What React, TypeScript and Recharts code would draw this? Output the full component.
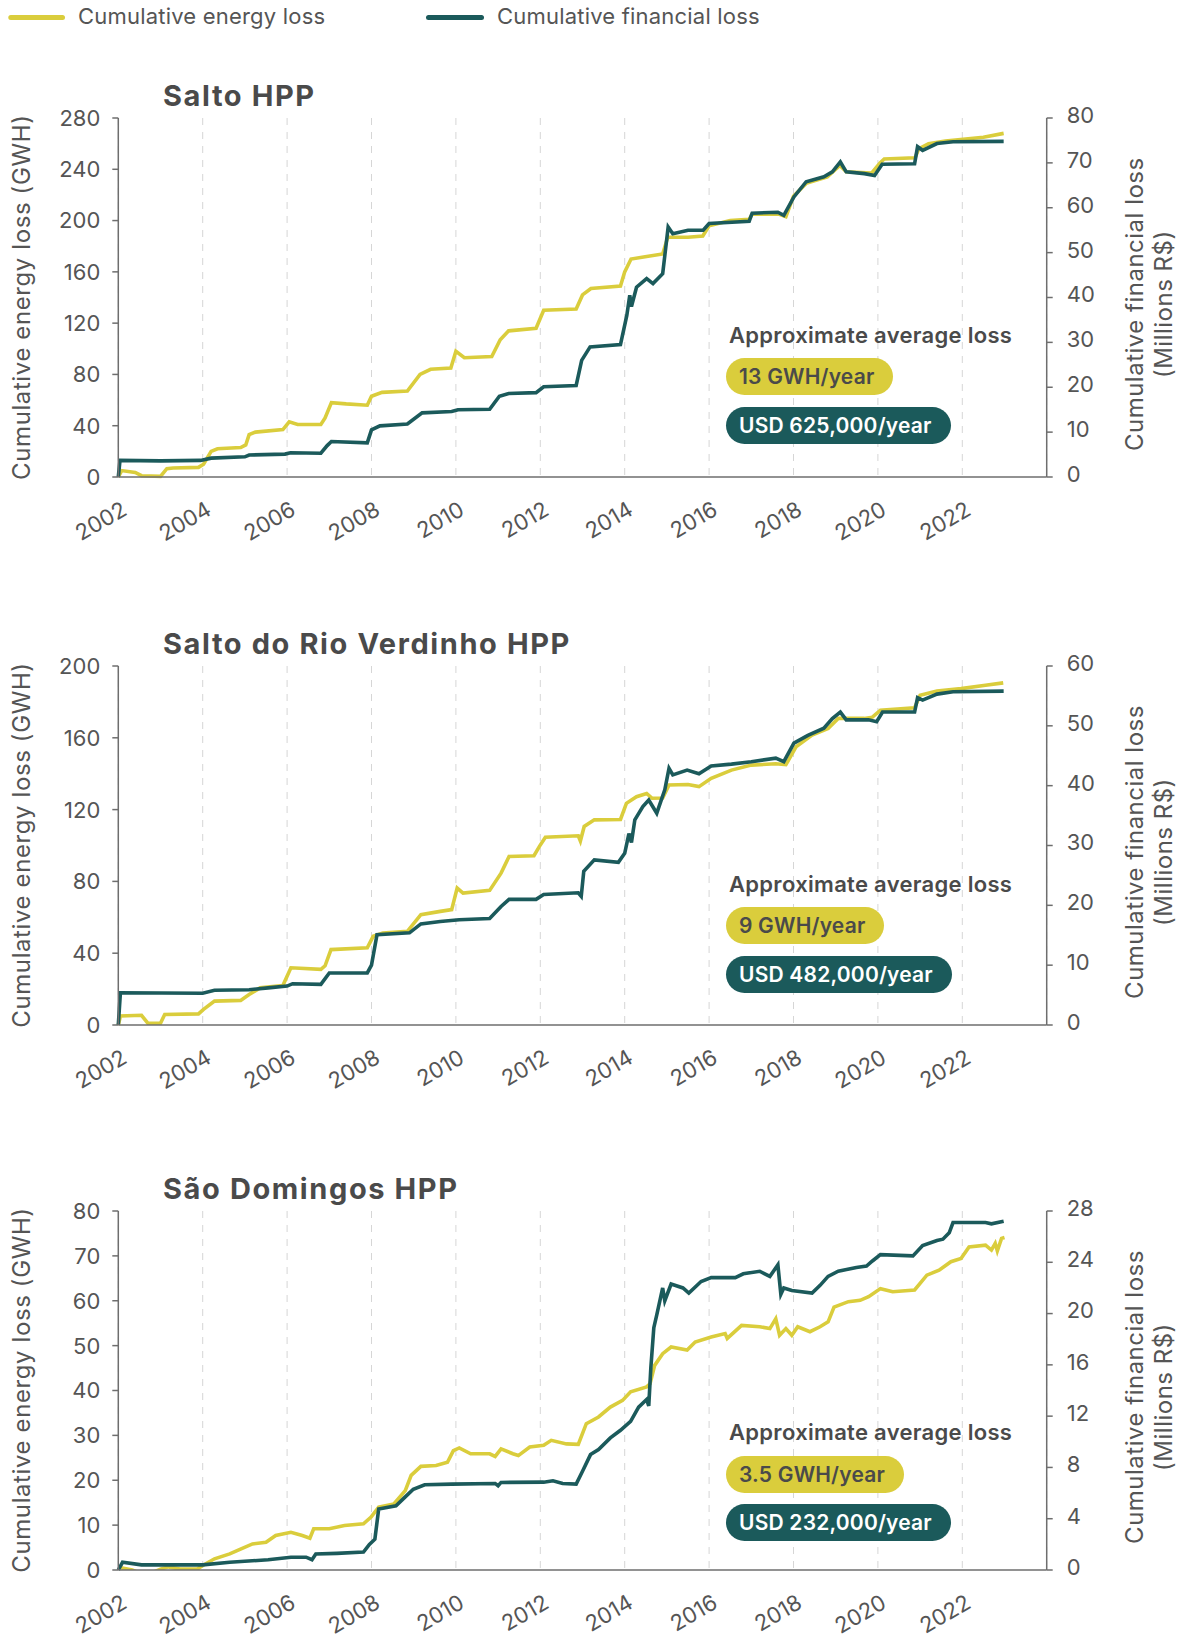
import React from 'react';
import { LineChart, Line, XAxis, YAxis, CartesianGrid } from 'recharts';

type Pt = [number, number];

// ---- data (decimal year, value) ----
const yearTicks = [2002, 2004, 2006, 2008, 2010, 2012, 2014, 2016, 2018, 2020, 2022];

const saltoEnergy: Pt[] = [
  [2002.0, 0], [2002.08, 5], [2002.4, 3.5], [2002.55, 1], [2003.0, 0.5], [2003.15, 6.5],
  [2003.3, 7], [2003.9, 7.5], [2004.02, 10], [2004.2, 20], [2004.35, 22], [2004.9, 23],
  [2005.02, 25], [2005.1, 33], [2005.25, 35], [2005.9, 37], [2006.05, 43], [2006.25, 41],
  [2006.8, 41], [2006.9, 46], [2007.05, 58], [2007.4, 57], [2007.9, 56], [2008.0, 63],
  [2008.25, 66], [2008.85, 67], [2009.15, 80], [2009.4, 84], [2009.88, 85], [2010.0, 98],
  [2010.2, 93], [2010.85, 94], [2011.05, 107], [2011.25, 114], [2011.9, 116], [2012.08, 130],
  [2012.85, 131], [2013.0, 142], [2013.2, 147], [2013.9, 149], [2014.0, 160], [2014.15, 170],
  [2014.9, 174], [2015.02, 187], [2015.5, 187], [2015.85, 188], [2016.0, 196], [2016.5, 200],
  [2016.95, 201], [2017.02, 205], [2017.65, 205], [2017.82, 203], [2018.0, 219], [2018.3, 229],
  [2018.8, 234], [2019.1, 243], [2019.25, 238], [2019.85, 237], [2020.05, 245], [2020.15, 248],
  [2020.88, 249], [2020.97, 256], [2021.2, 260], [2021.6, 262], [2022.5, 265], [2022.98, 268],
];
const saltoMoney: Pt[] = [
  [2002.0, 0], [2002.04, 3.7], [2003.0, 3.6], [2003.95, 3.7], [2004.2, 4.2], [2005.0, 4.5],
  [2005.1, 4.9], [2005.95, 5.1], [2006.08, 5.4], [2006.8, 5.3], [2006.95, 7.0], [2007.05, 7.9],
  [2007.9, 7.6], [2008.0, 10.5], [2008.2, 11.4], [2008.85, 11.8], [2009.2, 14.3], [2009.9, 14.6],
  [2010.05, 15.0], [2010.8, 15.1], [2011.03, 18.0], [2011.25, 18.6], [2011.9, 18.8], [2012.08, 20.1],
  [2012.85, 20.4], [2012.98, 26.0], [2013.18, 29.0], [2013.9, 29.5], [2014.05, 36], [2014.12, 40.5],
  [2014.16, 38], [2014.28, 42.3], [2014.52, 44.2], [2014.67, 43.1], [2014.9, 45.3], [2015.03, 55.7],
  [2015.14, 54.2], [2015.5, 55], [2015.86, 55], [2016.0, 56.5], [2016.95, 57], [2017.02, 58.8],
  [2017.63, 59], [2017.77, 58.3], [2018.01, 62.4], [2018.3, 65.8], [2018.72, 66.9], [2018.92, 68],
  [2019.11, 70.2], [2019.25, 68], [2019.68, 67.6], [2019.92, 67.2], [2020.1, 69.7], [2020.87, 69.8],
  [2020.94, 73.6], [2021.06, 72.8], [2021.4, 74.3], [2021.78, 74.7], [2022.98, 74.8],
];

const verdinhoEnergy: Pt[] = [
  [2002.0, 0], [2002.05, 5], [2002.55, 5.4], [2002.7, 1], [2003.0, 1], [2003.1, 5.9],
  [2003.9, 6.2], [2004.02, 8.7], [2004.28, 13.3], [2004.9, 13.7], [2005.1, 17], [2005.36, 20.7],
  [2005.9, 22], [2006.09, 31.9], [2006.8, 31], [2006.9, 33], [2007.04, 42], [2007.9, 43],
  [2008.04, 49.4], [2008.27, 51.3], [2008.85, 52.2], [2009.17, 61.5], [2009.63, 63.3], [2009.9, 64.3],
  [2010.03, 76.3], [2010.17, 73.5], [2010.8, 75], [2011.07, 84.6], [2011.26, 93.9], [2011.85, 94.3],
  [2011.98, 99.5], [2012.12, 104.6], [2012.9, 105.4], [2012.95, 102.5], [2013.04, 110.6], [2013.28, 114.3],
  [2013.9, 114.5], [2014.04, 123.5], [2014.28, 127.2], [2014.52, 129], [2014.65, 126.3], [2014.9, 126.5],
  [2015.05, 133.7], [2015.5, 134], [2015.76, 132.8], [2016.05, 137.4], [2016.53, 142], [2017.0, 144.8],
  [2017.58, 145.5], [2017.82, 145], [2018.06, 155], [2018.44, 161.5], [2018.82, 165.2], [2019.06, 170.8],
  [2019.68, 170.8], [2019.87, 171.5], [2020.06, 175.4], [2020.87, 176.7], [2021.0, 183.7], [2021.4, 186.1],
  [2021.97, 187.4], [2022.55, 189.3], [2022.97, 190.6],
];
const verdinhoMoney: Pt[] = [
  [2002.0, 0], [2002.05, 5.4], [2004.0, 5.3], [2004.28, 5.8], [2005.1, 5.9], [2005.55, 6.2],
  [2006.0, 6.5], [2006.13, 6.9], [2006.8, 6.8], [2007.0, 8.7], [2007.9, 8.7], [2008.0, 10],
  [2008.13, 15.1], [2008.9, 15.4], [2009.17, 16.9], [2009.63, 17.3], [2010.08, 17.6], [2010.8, 17.8],
  [2011.07, 19.8], [2011.26, 21], [2011.9, 21], [2012.08, 21.8], [2012.9, 22.1], [2012.97, 21.5],
  [2013.03, 25.7], [2013.28, 27.6], [2013.85, 27.2], [2014.0, 28.7], [2014.1, 32], [2014.16, 30.5],
  [2014.24, 34.3], [2014.43, 36.5], [2014.57, 37.6], [2014.76, 35.4], [2014.95, 39.3], [2015.05, 42.9],
  [2015.14, 41.8], [2015.48, 42.6], [2015.76, 42], [2016.05, 43.3], [2016.53, 43.6], [2017.0, 44],
  [2017.58, 44.6], [2017.77, 44], [2018.01, 47.1], [2018.34, 48.4], [2018.72, 49.6], [2018.92, 51.2],
  [2019.11, 52.3], [2019.25, 51], [2019.78, 51], [2019.97, 50.7], [2020.11, 52.3], [2020.87, 52.3],
  [2020.94, 54.7], [2021.06, 54.3], [2021.4, 55.3], [2021.78, 55.7], [2022.98, 55.8],
];

const domingosEnergy: Pt[] = [
  [2002.0, 0.6], [2002.33, 0], [2002.46, -0.5], [2002.6, -1.5], [2002.78, -0.7], [2003.0, 0.2],
  [2003.19, 0.7], [2003.46, 0.2], [2003.87, 0.2], [2004.0, 1], [2004.28, 2.5], [2004.64, 3.6],
  [2004.91, 4.7], [2005.18, 5.8], [2005.5, 6.2], [2005.73, 7.7], [2006.09, 8.4], [2006.36, 7.7],
  [2006.54, 7.1], [2006.63, 9.2], [2007.0, 9.2], [2007.36, 9.9], [2007.81, 10.3], [2007.99, 11.8],
  [2008.17, 14], [2008.53, 14.7], [2008.8, 17.7], [2008.94, 21.1], [2009.17, 23.1], [2009.53, 23.3],
  [2009.8, 24], [2009.94, 26.6], [2010.08, 27.2], [2010.35, 25.9], [2010.8, 25.9], [2010.93, 25.3],
  [2011.07, 27], [2011.35, 25.9], [2011.48, 25.5], [2011.75, 27.4], [2012.08, 27.8], [2012.26, 28.9],
  [2012.62, 28.1], [2012.9, 28], [2013.09, 32.6], [2013.38, 34.1], [2013.66, 36.3], [2013.95, 37.8],
  [2014.14, 39.7], [2014.52, 40.8], [2014.6, 41.5], [2014.71, 45.6], [2014.9, 48.2], [2015.1, 49.7],
  [2015.48, 49], [2015.67, 50.8], [2016.05, 51.9], [2016.38, 52.7], [2016.43, 51.6], [2016.77, 54.5],
  [2017.2, 54.2], [2017.44, 53.8], [2017.58, 56], [2017.67, 52.3], [2017.82, 53.8], [2017.96, 52.3],
  [2018.1, 54.2], [2018.39, 53.1], [2018.63, 54.2], [2018.82, 55.3], [2018.96, 58.6], [2019.3, 59.8],
  [2019.58, 60.1], [2019.78, 60.9], [2020.06, 62.7], [2020.35, 62], [2020.87, 62.4], [2021.16, 65.7],
  [2021.45, 66.8], [2021.73, 68.7], [2021.97, 69.4], [2022.16, 72], [2022.55, 72.4], [2022.69, 71.3],
  [2022.78, 72.8], [2022.83, 71.1], [2022.93, 73.9], [2023.0, 74.1],
];
const domingosMoney: Pt[] = [
  [2002.0, 0], [2002.1, 0.6], [2002.55, 0.4], [2004.0, 0.4], [2004.64, 0.6], [2005.55, 0.8],
  [2006.09, 1.0], [2006.45, 1.0], [2006.59, 0.8], [2006.68, 1.25], [2007.18, 1.3], [2007.81, 1.4],
  [2007.95, 2.0], [2008.08, 2.4], [2008.17, 4.75], [2008.58, 5.0], [2008.8, 5.7], [2008.99, 6.3],
  [2009.26, 6.65], [2009.9, 6.7], [2010.93, 6.75], [2011.0, 6.57], [2011.07, 6.83], [2012.08, 6.85],
  [2012.3, 6.96], [2012.53, 6.75], [2012.85, 6.7], [2013.0, 7.7], [2013.19, 9.0], [2013.38, 9.4],
  [2013.66, 10.3], [2013.9, 10.9], [2014.14, 11.6], [2014.33, 12.7], [2014.52, 13.3], [2014.57, 12.8],
  [2014.62, 15.8], [2014.69, 18.9], [2014.76, 19.9], [2014.9, 22], [2014.95, 21], [2015.1, 22.3],
  [2015.38, 22], [2015.52, 21.6], [2015.81, 22.5], [2016.05, 22.8], [2016.62, 22.8], [2016.81, 23.1],
  [2017.2, 23.3], [2017.44, 22.9], [2017.63, 23.8], [2017.7, 21.5], [2017.77, 22], [2017.96, 21.8],
  [2018.44, 21.6], [2018.63, 22.2], [2018.82, 22.9], [2019.06, 23.3], [2019.49, 23.6], [2019.73, 23.7],
  [2019.87, 24.1], [2020.06, 24.6], [2020.83, 24.5], [2021.06, 25.3], [2021.4, 25.7], [2021.54, 25.8],
  [2021.69, 26.3], [2021.78, 27.1], [2022.55, 27.1], [2022.69, 27.0], [2022.98, 27.2],
];

const saltoEnergyTicks = [0, 40, 80, 120, 160, 200, 240, 280];
const saltoMoneyTicks = [0, 10, 20, 30, 40, 50, 60, 70, 80];
const verdinhoEnergyTicks = [0, 40, 80, 120, 160, 200];
const verdinhoMoneyTicks = [0, 10, 20, 30, 40, 50, 60];
const domingosEnergyTicks = [0, 10, 20, 30, 40, 50, 60, 70, 80];
const domingosMoneyTicks = [0, 4, 8, 12, 16, 20, 24, 28];

// ---- look ----
const FONT = 'Inter, "Noto Sans", sans-serif';
const YELLOW = '#dacd3c';
const TEAL = '#1b5a5b';
const INK = '#4a4a4a';
const LABEL = '#555';
const AXIS = '#6e6e6e';

const PAGE_W = 1182;
const PAGE_H = 1644;
const PLOT_LEFT = 118.3;
const PLOT_RIGHT = 1046.7;
const PLOT_H = 359;
const CHART_MT = 30;
const XAXIS_H = 80;

const panels = [
  {
    title: 'Salto HPP', energy: saltoEnergy, money: saltoMoney,
    energyTicks: saltoEnergyTicks, moneyTicks: saltoMoneyTicks,
    energyRate: '13 GWH/year', moneyRate: 'USD 625,000/year',
    plotTop: 117.7, noteY: 343, pillY: [358, 407],
  },
  {
    title: 'Salto do Rio Verdinho HPP', energy: verdinhoEnergy, money: verdinhoMoney,
    energyTicks: verdinhoEnergyTicks, moneyTicks: verdinhoMoneyTicks,
    energyRate: '9 GWH/year', moneyRate: 'USD 482,000/year',
    plotTop: 665.5, noteY: 892, pillY: [907, 956],
  },
  {
    title: 'São Domingos HPP', energy: domingosEnergy, money: domingosMoney,
    energyTicks: domingosEnergyTicks, moneyTicks: domingosMoneyTicks,
    energyRate: '3.5 GWH/year', moneyRate: 'USD 232,000/year',
    plotTop: 1210.5, noteY: 1440, pillY: [1456, 1504],
  },
];

const toRows = (pts: Pt[]) => pts.map(([x, y]) => ({ x, y }));

function YearTick(props: any) {
  const { x, payload } = props;
  const ax = x + 10;
  const ay = CHART_MT + PLOT_H + 37;
  return (
    <text x={ax} y={ay} transform={`rotate(-30 ${ax} ${ay})`} textAnchor="end"
      fill={LABEL} fontSize={22} fontFamily={FONT}>
      {payload.value}
    </text>
  );
}

function LeftTick(props: any) {
  const { x, y, payload } = props;
  return (
    <text x={x} y={y} dy="0.36em" textAnchor="end" fill={LABEL} fontSize={22} fontFamily={FONT}>
      {payload.value}
    </text>
  );
}

function RightTick(props: any) {
  const { x, y, payload } = props;
  return (
    <text x={x} y={y - 3} dy="0.36em" textAnchor="start" fill={LABEL} fontSize={22} fontFamily={FONT}>
      {payload.value}
    </text>
  );
}

function Panel({ p }: { p: (typeof panels)[number] }) {
  const eTicks = p.energyTicks;
  const mTicks = p.moneyTicks;
  const dips = p.energy.some(([, v]) => v < 0);
  return (
    <div style={{ position: 'absolute', left: 0, top: p.plotTop - CHART_MT }}>
      <LineChart width={PAGE_W} height={CHART_MT + PLOT_H + XAXIS_H}
        margin={{ top: CHART_MT, right: 0, bottom: 0, left: 0 }}>
        <CartesianGrid yAxisId="left" horizontal={false} stroke="#d6d6d6" strokeDasharray="7 7" />
        <XAxis type="number" dataKey="x" domain={[2002, 2024]} ticks={yearTicks} interval={0}
          height={XAXIS_H} tickLine={false} axisLine={{ stroke: AXIS, strokeWidth: 1.5 }}
          tick={(t: any) => <YearTick {...t} />} />
        <YAxis yAxisId="left" width={PLOT_LEFT} domain={[eTicks[0], eTicks[eTicks.length - 1]]}
          ticks={eTicks} interval={0} allowDataOverflow={dips} tickSize={6} tickMargin={12}
          axisLine={{ stroke: AXIS, strokeWidth: 1.5 }} tickLine={{ stroke: AXIS, strokeWidth: 1.5 }}
          tick={(t: any) => <LeftTick {...t} />} />
        <YAxis yAxisId="right" orientation="right" width={PAGE_W - PLOT_RIGHT}
          domain={[mTicks[0], mTicks[mTicks.length - 1]]} ticks={mTicks} interval={0}
          tickSize={6} tickMargin={14}
          axisLine={{ stroke: AXIS, strokeWidth: 1.5 }} tickLine={{ stroke: AXIS, strokeWidth: 1.5 }}
          tick={(t: any) => <RightTick {...t} />} />
        <Line yAxisId="left" data={toRows(p.energy)} dataKey="y" type="linear" stroke={YELLOW}
          strokeWidth={3.6} dot={false} activeDot={false} isAnimationActive={false} />
        <Line yAxisId="right" data={toRows(p.money)} dataKey="y" type="linear" stroke={TEAL}
          strokeWidth={3.6} dot={false} activeDot={false} isAnimationActive={false} />
      </LineChart>
    </div>
  );
}

function Overlay() {
  const txt = { fontFamily: FONT, fill: LABEL } as const;
  return (
    <svg width={PAGE_W} height={PAGE_H} style={{ position: 'absolute', left: 0, top: 0, pointerEvents: 'none' }}>
      <line x1={10.8} y1={17.5} x2={62.5} y2={17.5} stroke={YELLOW} strokeWidth={5} strokeLinecap="round" />
      <text x={78} y={24} fontSize={22} letterSpacing={0.2} {...txt}>Cumulative energy loss</text>
      <line x1={428.5} y1={17.5} x2={481.5} y2={17.5} stroke={TEAL} strokeWidth={5} strokeLinecap="round" />
      <text x={497} y={24} fontSize={22} letterSpacing={0.2} {...txt}>Cumulative financial loss</text>
      {panels.map((p) => {
        const cy = p.plotTop + PLOT_H / 2;
        return (
          <g key={p.title}>
            <text x={163} y={p.plotTop - 12} fontSize={29} fontWeight={700} letterSpacing={1.6}
              fontFamily={FONT} fill={INK}>{p.title}</text>
            <text transform={`translate(29.5 ${cy}) rotate(-90)`} textAnchor="middle" fontSize={24}
              letterSpacing={0.6} {...txt}>Cumulative energy loss (GWH)</text>
            <text transform={`translate(1143 ${cy + 7}) rotate(-90)`} textAnchor="middle" fontSize={24}
              letterSpacing={0.5} {...txt}>Cumulative financial loss</text>
            <text transform={`translate(1171.5 ${cy + 7}) rotate(-90)`} textAnchor="middle" fontSize={24}
              letterSpacing={0.5} {...txt}>(Millions R$)</text>
            <text x={729} y={p.noteY} fontSize={22} fontWeight={600} letterSpacing={0.3}
              fontFamily={FONT} fill={INK}>Approximate average loss</text>
          </g>
        );
      })}
    </svg>
  );
}

const pillBase: React.CSSProperties = {
  position: 'absolute',
  left: 726,
  height: 37,
  padding: '0 19px 0 13px',
  borderRadius: 19,
  display: 'flex',
  alignItems: 'center',
  fontFamily: FONT,
  fontSize: 21,
  fontWeight: 600,
  letterSpacing: 0.2,
  whiteSpace: 'nowrap',
};

export default function App() {
  return (
    <div style={{ position: 'absolute', left: 0, top: 0, width: PAGE_W, height: PAGE_H, background: '#fff' }}>
      {panels.map((p) => <Panel key={p.title} p={p} />)}
      <Overlay />
      {panels.map((p) => (
        <React.Fragment key={p.title + '-pills'}>
          <div style={{ ...pillBase, top: p.pillY[0], background: YELLOW, color: INK }}>{p.energyRate}</div>
          <div style={{ ...pillBase, top: p.pillY[1], background: TEAL, color: '#fff' }}>{p.moneyRate}</div>
        </React.Fragment>
      ))}
    </div>
  );
}
